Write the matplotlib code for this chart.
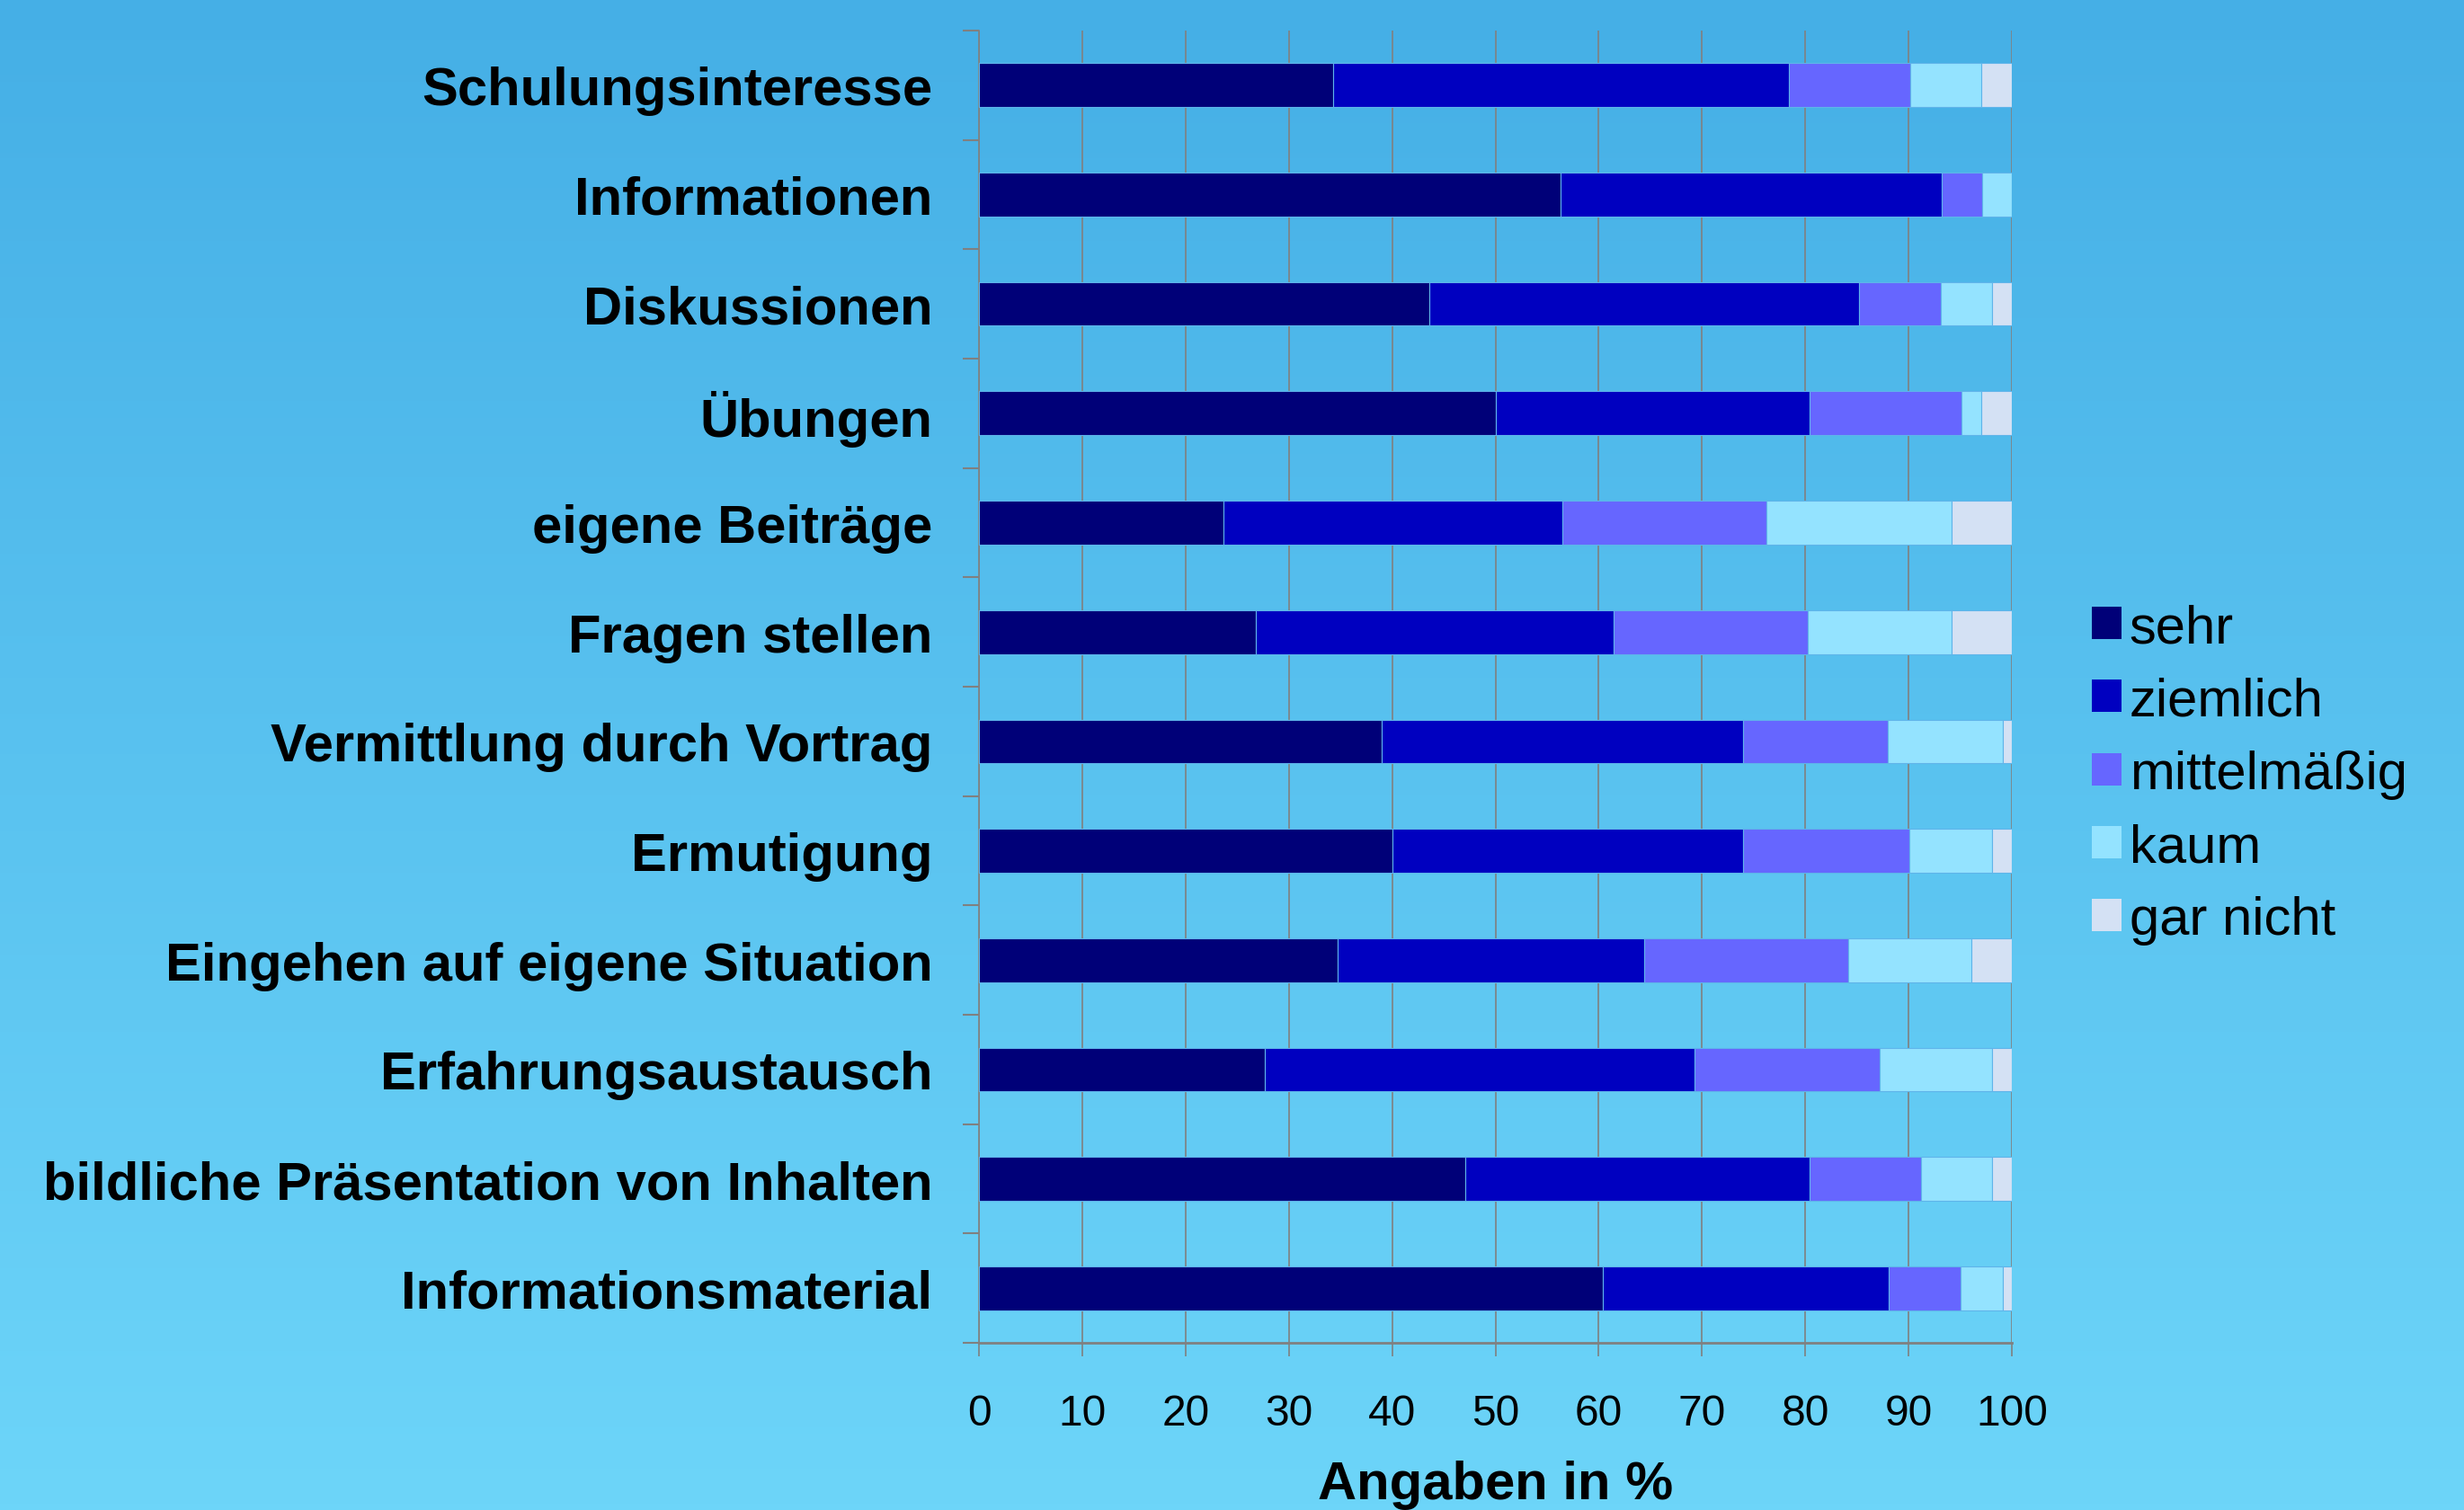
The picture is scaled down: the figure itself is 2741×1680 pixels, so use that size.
import numpy as np
import matplotlib
matplotlib.use("Agg")
import matplotlib.pyplot as plt
from matplotlib.patches import Patch

plt.rcParams['font.family'] = ['Liberation Sans', 'DejaVu Sans']

kategorien = ["Schulungsinteresse", "Informationen", "Diskussionen", "Übungen",
              "eigene Beiträge", "Fragen stellen", "Vermittlung durch Vortrag",
              "Ermutigung", "Eingehen auf eigene Situation", "Erfahrungsaustausch",
              "bildliche Präsentation von Inhalten", "Informationsmaterial"]

sehr =        [34.3, 56.3, 43.6, 50.0, 23.7, 26.8, 39.0, 40.0, 34.7, 27.7, 47.1, 60.4]
ziemlich =    [44.1, 36.9, 41.6, 30.4, 32.8, 34.6, 35.0, 34.0, 29.7, 41.6, 33.3, 27.7]
mittelmaessig = [11.8, 3.9, 7.9, 14.7, 19.7, 18.8, 14.0, 16.1, 19.8, 17.9, 10.8, 6.9]
kaum =        [6.8, 2.9, 5.0, 1.9, 18.0, 14.0, 11.1, 8.0, 11.9, 10.9, 6.9, 4.1]
gar_nicht =   [3.0, 0.0, 1.9, 3.0, 5.8, 5.8, 0.9, 1.9, 3.9, 1.9, 1.9, 0.9]

serien = ["sehr", "ziemlich", "mittelmäßig", "kaum", "gar nicht"]
farben = ["#000078", "#0000C0", "#6666FF", "#94E3FF", "#D4E1F4"]
werte = [sehr, ziemlich, mittelmaessig, kaum, gar_nicht]

fig = plt.figure(figsize=(27.41, 16.81), dpi=100)

# hintergrund: verlauf von oben nach unten
bg = fig.add_axes([0, 0, 1, 1], zorder=-10)
verlauf = np.linspace(0, 1, 256).reshape(-1, 1)
oben = np.array([0x45, 0xAF, 0xE6]) / 255
unten = np.array([0x6D, 0xD5, 0xF9]) / 255
img = oben + (unten - oben) * verlauf[:, :, None]
bg.imshow(img, aspect='auto', extent=[0, 1, 0, 1])
bg.axis('off')

ax = fig.add_axes([0.3973, 0.1106, 0.4192, 0.8686])
ax.patch.set_alpha(0)

y = np.arange(len(kategorien))
links = np.zeros(len(kategorien))
for name, farbe, w in zip(serien, farben, werte):
    ax.barh(y, w, left=links, height=0.4, color=farbe, label=name,
            edgecolor='#5FB4EA', linewidth=0.8, zorder=3)
    links += np.array(w)

ax.set_xlim(0, 100)
ax.set_ylim(len(kategorien) - 0.5, -0.5)
ax.set_xticks(np.arange(0, 101, 10))
ax.set_yticks(y)
ax.set_yticklabels(kategorien, fontsize=43, fontweight='bold')
ax.set_yticks(np.arange(-0.5, len(kategorien)), minor=True)
ax.tick_params(axis='y', which='major', length=0, pad=37)
ax.tick_params(axis='y', which='minor', length=13, width=1.5, color='#808080')
ax.tick_params(axis='x', length=11, width=1.2, color='#808080', pad=29, labelsize=34.5)

ax.grid(axis='x', color='#808080', linewidth=1.2, zorder=0)
ax.set_axisbelow(True)
for s in ['top', 'right']:
    ax.spines[s].set_visible(False)
ax.spines['left'].set_color('#808080')
ax.spines['left'].set_linewidth(1.2)
ax.spines['bottom'].set_color('#808080')
ax.spines['bottom'].set_linewidth(2)

ax.set_xlabel("Angaben in %", fontsize=43, fontweight='bold', labelpad=21)

handles = [Patch(facecolor=f, edgecolor='none') for f in farben]
fig.legend(handles, serien, loc='center left', bbox_to_anchor=(0.838, 0.487),
           frameon=False, fontsize=43, handlelength=0.55, handleheight=0.55,
           handletextpad=0.15, labelspacing=0.44, borderpad=0)

fig.savefig("out.png", dpi=100)
